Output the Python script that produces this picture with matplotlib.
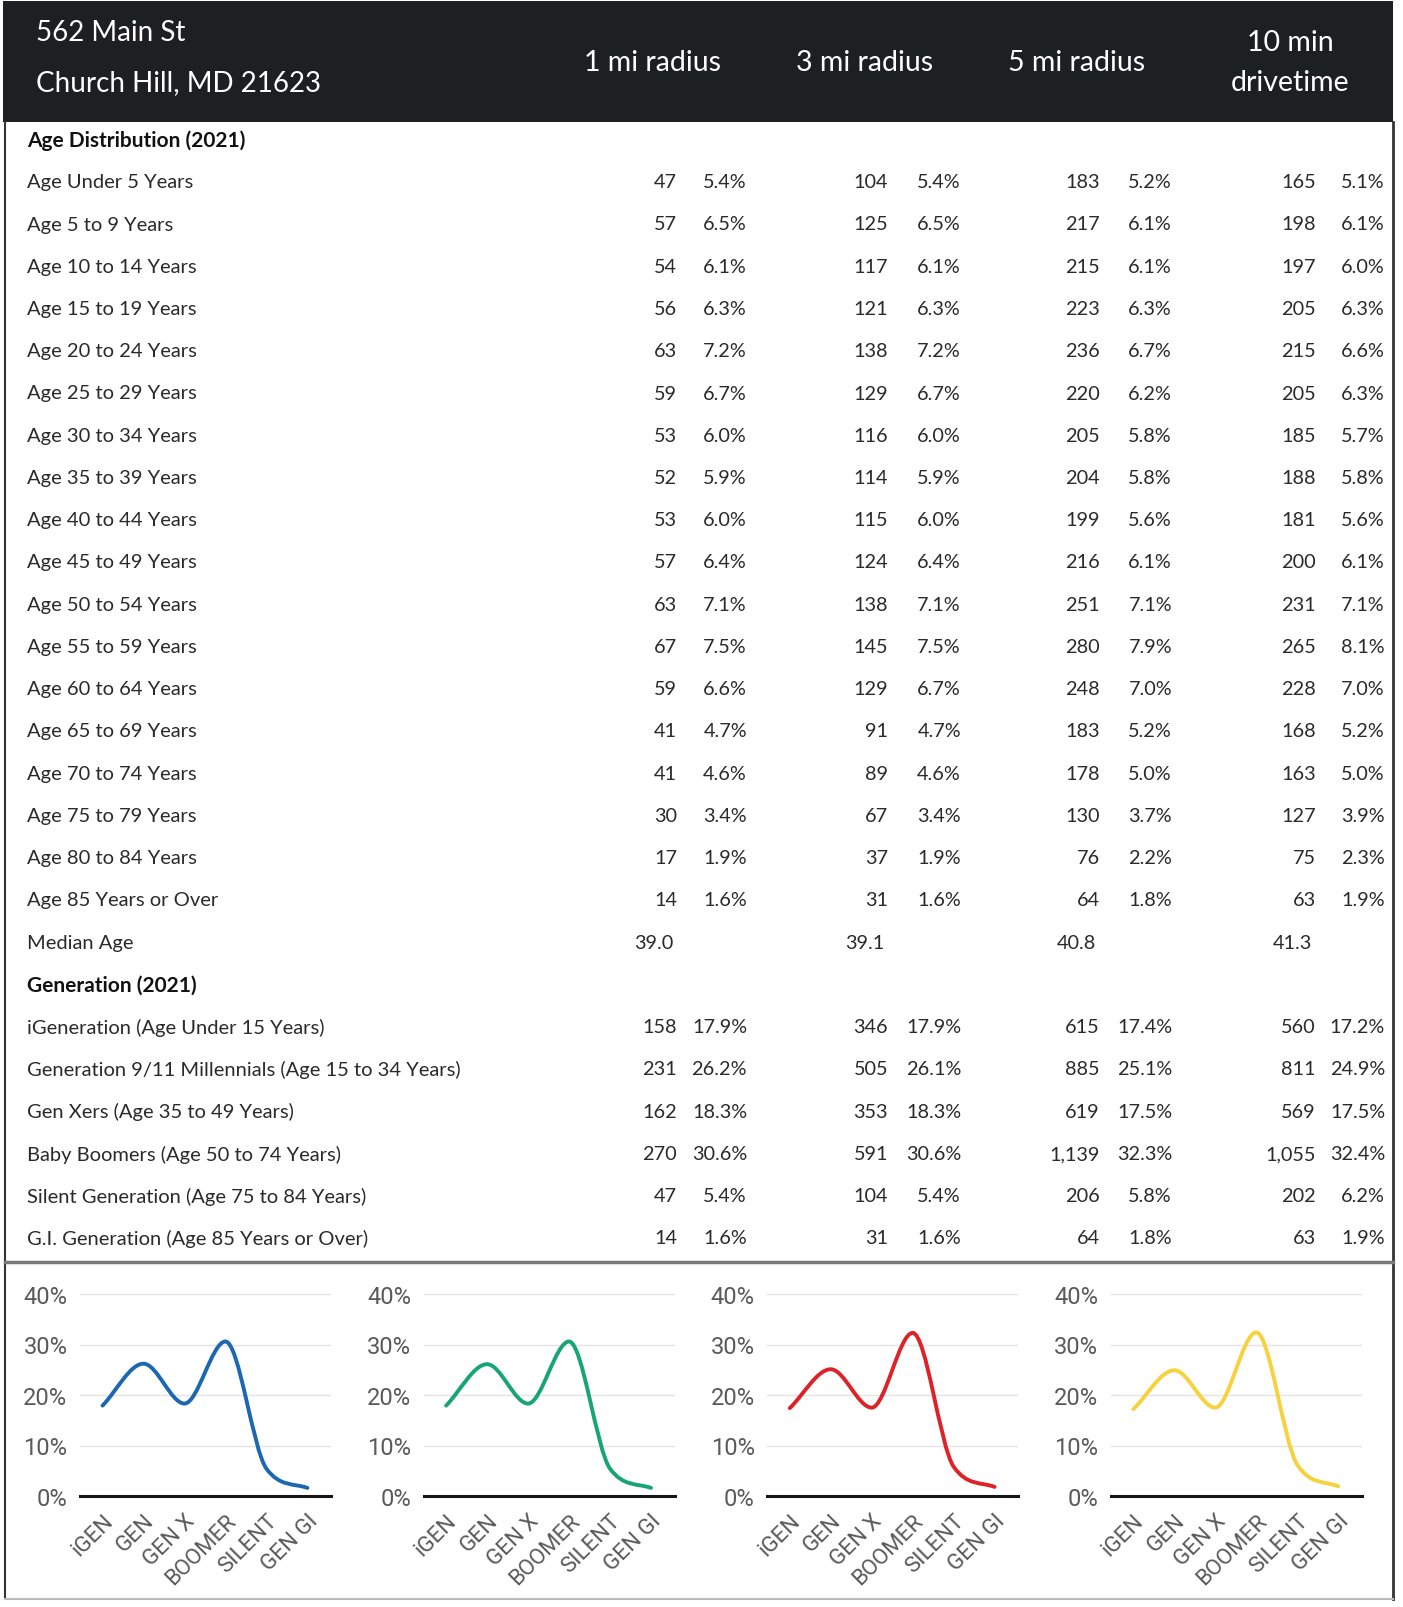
import numpy as np
import matplotlib
matplotlib.use("Agg")
import matplotlib.pyplot as plt
from matplotlib.path import Path
from matplotlib.patches import PathPatch, Rectangle

# ---- data ----
address = ["562 Main St", "Church Hill, MD 21623"]
col_titles = ["1 mi radius", "3 mi radius", "5 mi radius", "10 min\ndrivetime"]

age_labels = ["Age Under 5 Years", "Age 5 to 9 Years", "Age 10 to 14 Years", "Age 15 to 19 Years",
              "Age 20 to 24 Years", "Age 25 to 29 Years", "Age 30 to 34 Years", "Age 35 to 39 Years",
              "Age 40 to 44 Years", "Age 45 to 49 Years", "Age 50 to 54 Years", "Age 55 to 59 Years",
              "Age 60 to 64 Years", "Age 65 to 69 Years", "Age 70 to 74 Years", "Age 75 to 79 Years",
              "Age 80 to 84 Years", "Age 85 Years or Over"]
one_mi_n = [47, 57, 54, 56, 63, 59, 53, 52, 53, 57, 63, 67, 59, 41, 41, 30, 17, 14]
one_mi_p = [5.4, 6.5, 6.1, 6.3, 7.2, 6.7, 6.0, 5.9, 6.0, 6.4, 7.1, 7.5, 6.6, 4.7, 4.6, 3.4, 1.9, 1.6]
three_mi_n = [104, 125, 117, 121, 138, 129, 116, 114, 115, 124, 138, 145, 129, 91, 89, 67, 37, 31]
three_mi_p = [5.4, 6.5, 6.1, 6.3, 7.2, 6.7, 6.0, 5.9, 6.0, 6.4, 7.1, 7.5, 6.7, 4.7, 4.6, 3.4, 1.9, 1.6]
five_mi_n = [183, 217, 215, 223, 236, 220, 205, 204, 199, 216, 251, 280, 248, 183, 178, 130, 76, 64]
five_mi_p = [5.2, 6.1, 6.1, 6.3, 6.7, 6.2, 5.8, 5.8, 5.6, 6.1, 7.1, 7.9, 7.0, 5.2, 5.0, 3.7, 2.2, 1.8]
drive_n = [165, 198, 197, 205, 215, 205, 185, 188, 181, 200, 231, 265, 228, 168, 163, 127, 75, 63]
drive_p = [5.1, 6.1, 6.0, 6.3, 6.6, 6.3, 5.7, 5.8, 5.6, 6.1, 7.1, 8.1, 7.0, 5.2, 5.0, 3.9, 2.3, 1.9]
median_age = ["39.0", "39.1", "40.8", "41.3"]

gen_labels = ["iGeneration (Age Under 15 Years)", "Generation 9/11 Millennials (Age 15 to 34 Years)",
              "Gen Xers (Age 35 to 49 Years)", "Baby Boomers (Age 50 to 74 Years)",
              "Silent Generation (Age 75 to 84 Years)", "G.I. Generation (Age 85 Years or Over)"]
gen_one_n = [158, 231, 162, 270, 47, 14]
gen_one_p = [17.9, 26.2, 18.3, 30.6, 5.4, 1.6]
gen_three_n = [346, 505, 353, 591, 104, 31]
gen_three_p = [17.9, 26.1, 18.3, 30.6, 5.4, 1.6]
gen_five_n = [615, 885, 619, 1139, 206, 64]
gen_five_p = [17.4, 25.1, 17.5, 32.3, 5.8, 1.8]
gen_drive_n = [560, 811, 569, 1055, 202, 63]
gen_drive_p = [17.2, 24.9, 17.5, 32.4, 6.2, 1.9]

gen_short = ["iGEN", "GEN", "GEN X", "BOOMER", "SILENT", "GEN GI"]
yticks = [0, 10, 20, 30, 40]
line_colors = ["#1c68b0", "#17a577", "#de2328", "#f6d23e"]

age_cols = [(one_mi_n, one_mi_p), (three_mi_n, three_mi_p), (five_mi_n, five_mi_p), (drive_n, drive_p)]
gen_cols = [(gen_one_n, gen_one_p), (gen_three_n, gen_three_p),
            (gen_five_n, gen_five_p), (gen_drive_n, gen_drive_p)]

# ---- layout (pixels) ----
W, H = 1403, 1608
TXT = "#2a2a2a"
FONT = "Lato"
count_x = [677, 888, 1100, 1316]
pct_x = [747, 961, 1172, 1385]
title_x = [652, 865, 1077, 1290]
row0 = 140.5
dy = 42.25
label_x = 27

fig = plt.figure(figsize=(W / 100, H / 100), dpi=100)
bg = fig.add_axes([0, 0, 1, 1])
bg.set_xlim(0, W)
bg.set_ylim(H, 0)
bg.axis("off")

# header band
bg.add_patch(Rectangle((3, 2), 1390, 121, facecolor="#1c2020", edgecolor="none"))
bg.text(36, 33, address[0], color="white", fontsize=20, family=FONT, va="center")
bg.text(36, 83, address[1], color="white", fontsize=20, family=FONT, va="center")
for x, t in zip(title_x, col_titles):
    bg.text(x, 63, t, color="white", fontsize=20.5, family=FONT, ha="center", va="center",
            linespacing=1.65)

# borders
bg.plot([5, 5], [123, 1600], color="#333333", lw=1.5)
bg.plot([1393, 1393], [123, 1600], color="#333333", lw=2)
bg.plot([5, 1393], [1263, 1263], color="#7a7a7a", lw=2.5)
bg.plot([5, 1393], [1600, 1600], color="#bbbbbb", lw=1.5)


def row_y(i):
    return row0 + i * dy


def put_row(i, label, cols):
    y = row_y(i)
    bg.text(label_x, y, label, color=TXT, fontsize=14.5, family=FONT, va="center")
    for c, (n, p) in enumerate(cols):
        bg.text(count_x[c], y, f"{n:,}", color=TXT, fontsize=14.3, family=FONT, ha="right", va="center")
        bg.text(pct_x[c], y, f"{p:.1f}%", color=TXT, fontsize=14.3, family=FONT, ha="right", va="center")


bg.text(label_x, row_y(0), "Age Distribution (2021)", color="#111111", fontsize=15, family=FONT,
        va="center", fontweight="bold")
for i, lab in enumerate(age_labels):
    put_row(i + 1, lab, [(n[i], p[i]) for n, p in age_cols])

r = len(age_labels) + 1
bg.text(label_x, row_y(r), "Median Age", color=TXT, fontsize=14.5, family=FONT, va="center")
for c, m in enumerate(median_age):
    bg.text(count_x[c] - 4, row_y(r), m, color=TXT, fontsize=14.3, family=FONT, ha="right", va="center")

bg.text(label_x, row_y(r + 1), "Generation (2021)", color="#111111", fontsize=15, family=FONT,
        va="center", fontweight="bold")
for i, lab in enumerate(gen_labels):
    put_row(r + 2 + i, lab, [(n[i], p[i]) for n, p in gen_cols])


# ---- small generation charts ----
def monotone_path(xs, ys):
    # monotone cubic (Fritsch-Carlson) drawn as bezier segments
    xs = np.asarray(xs, float)
    ys = np.asarray(ys, float)
    n = len(xs)
    dk = np.diff(ys) / np.diff(xs)
    m = np.zeros(n)
    m[0], m[-1] = dk[0], dk[-1]
    for i in range(1, n - 1):
        if dk[i - 1] == 0 or dk[i] == 0 or np.sign(dk[i - 1]) != np.sign(dk[i]):
            m[i] = 0
        else:
            m[i] = (dk[i - 1] + dk[i]) / 2
    for i in range(n - 1):
        if dk[i] == 0:
            m[i] = m[i + 1] = 0
            continue
        a, b = m[i] / dk[i], m[i + 1] / dk[i]
        s2 = a * a + b * b
        if s2 > 9:
            tau = 3 / np.sqrt(s2)
            m[i] = a * tau * dk[i]
            m[i + 1] = b * tau * dk[i]
    verts = [(xs[0], ys[0])]
    codes = [Path.MOVETO]
    for i in range(n - 1):
        d = (xs[i + 1] - xs[i]) / 3
        verts += [(xs[i] + d, ys[i] + d * m[i]), (xs[i + 1] - d, ys[i + 1] - d * m[i + 1]),
                  (xs[i + 1], ys[i + 1])]
        codes += [Path.CURVE4] * 3
    return Path(verts, codes)


ax_w = 251
ax_top, ax_bot = 1295, 1497
for k, (_, p) in enumerate(gen_cols):
    left = 80 + k * 343.6
    ax = fig.add_axes([left / W, 1 - ax_bot / H, ax_w / W, (ax_bot - ax_top) / H])
    xs = np.arange(len(gen_short))
    ax.add_patch(PathPatch(monotone_path(xs, p), facecolor="none", edgecolor=line_colors[k],
                           lw=2.8, capstyle="round", joinstyle="round", zorder=3))
    ax.set_xlim(-0.55, 5.575)
    ax.set_ylim(0, 40)
    ax.set_yticks(yticks)
    ax.set_yticklabels([f"{v}%" for v in yticks], family="Roboto", fontsize=17, color="#5a5a5a")
    ax.set_xticks(xs)
    ax.set_xticklabels(gen_short, family="Roboto", fontsize=16, color="#5a5a5a", rotation=45,
                       ha="right", va="top", rotation_mode="anchor")
    ax.tick_params(axis="y", length=0, pad=9)
    ax.tick_params(axis="x", length=0, pad=10)
    for v in yticks[1:]:
        ax.axhline(v, color="#e4e4e4", lw=1, zorder=1)
    ax.axhline(0, color="#151515", lw=2.2, zorder=4, clip_on=False)
    for sp in ax.spines.values():
        sp.set_visible(False)
    ax.set_facecolor("none")

fig.savefig("out.png", dpi=100, facecolor="white")
